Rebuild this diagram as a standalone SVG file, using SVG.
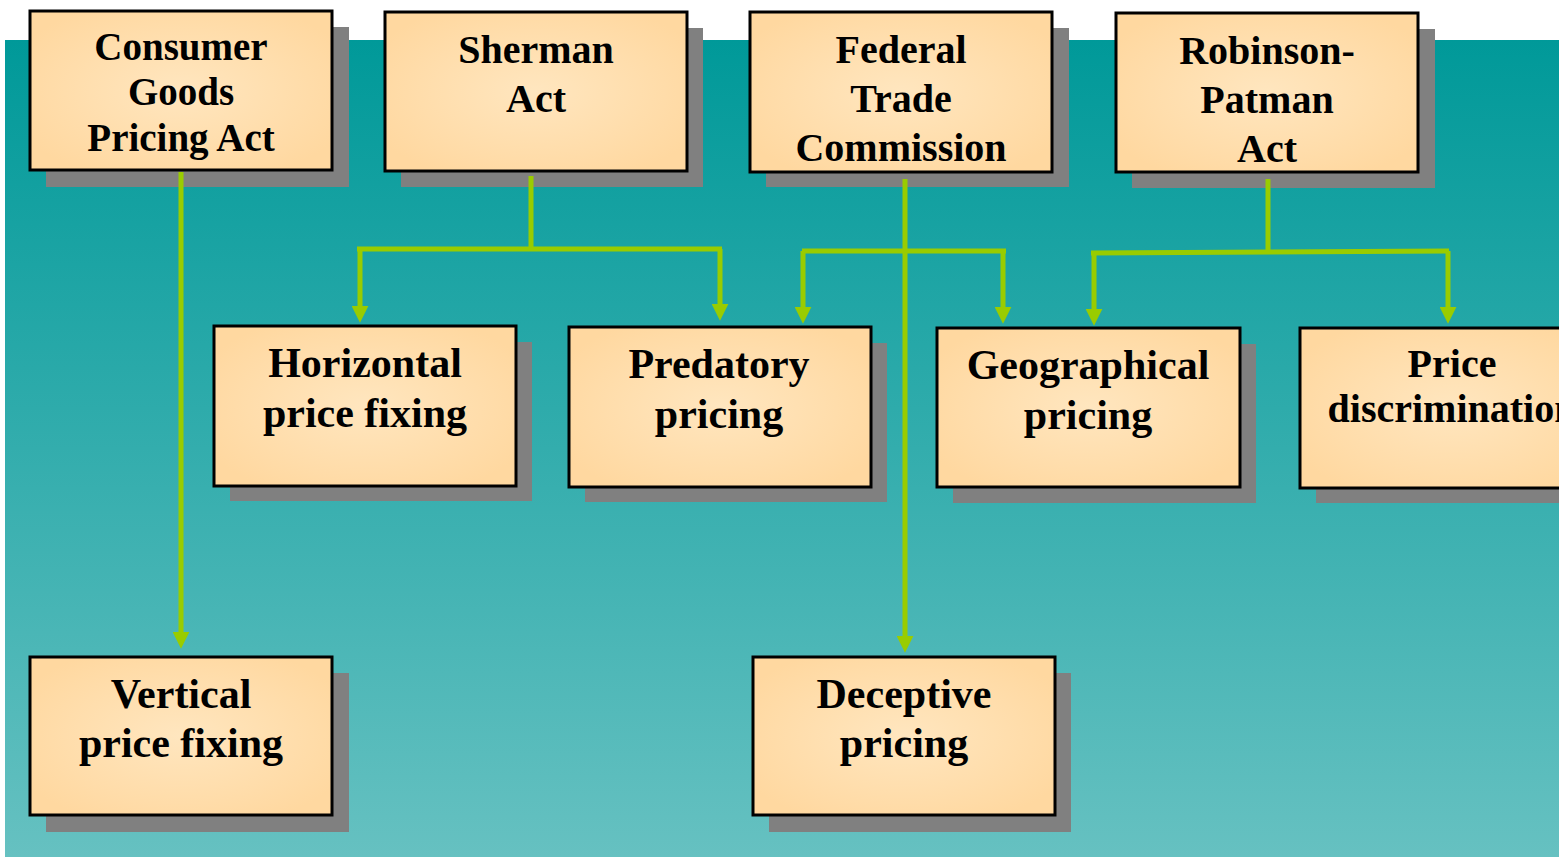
<svg xmlns="http://www.w3.org/2000/svg" width="1559" height="857" viewBox="0 0 1559 857">
<defs>
<linearGradient id="bg" x1="0" y1="0" x2="0" y2="1">
<stop offset="0" stop-color="#009999"/>
<stop offset="1" stop-color="#66C1C1"/>
</linearGradient>
<radialGradient id="box" cx="0.5" cy="0.5" r="0.6">
<stop offset="0" stop-color="#FFE6BF"/>
<stop offset="1" stop-color="#FFD8A0"/>
</radialGradient>
<marker id="arr" markerUnits="userSpaceOnUse" markerWidth="17" markerHeight="17" viewBox="0 0 16 16" refX="4" refY="8" orient="auto">
<path d="M0,0 L16,8 L0,16 z" fill="#99CC00"/>
</marker>
<style>
.sh{fill:#808080}
.bx{fill:url(#box);stroke:#000;stroke-width:3}
.t{font-family:"Liberation Serif","Times New Roman",serif;font-weight:bold;fill:#000;text-anchor:middle}
.c{fill:none;stroke:#99CC00;stroke-width:5}
</style>
</defs>
<rect x="5" y="40" width="1554" height="817" fill="url(#bg)"/>

<g id="consumer">
<rect class="sh" x="46" y="27" width="303" height="160"/>
<rect class="bx" x="30" y="11" width="302" height="159"/>
<text class="t" font-size="39"><tspan x="181" y="60">Consumer</tspan><tspan x="181" y="105">Goods</tspan><tspan x="181" y="151">Pricing Act</tspan></text>
</g>
<g id="sherman">
<rect class="sh" x="401" y="28" width="302" height="159"/>
<rect class="bx" x="385" y="12" width="302" height="159"/>
<text class="t" font-size="40"><tspan x="536" y="63">Sherman</tspan><tspan x="536" y="112">Act</tspan></text>
</g>
<g id="ftc">
<rect class="sh" x="766" y="28" width="303" height="159"/>
<rect class="bx" x="750" y="12" width="302" height="160"/>
<text class="t" font-size="40"><tspan x="901" y="63">Federal</tspan><tspan x="901" y="112">Trade</tspan><tspan x="901" y="161">Commission</tspan></text>
</g>
<g id="robinson">
<rect class="sh" x="1132" y="29" width="303" height="159"/>
<rect class="bx" x="1116" y="13" width="302" height="159"/>
<text class="t" font-size="40"><tspan x="1267" y="64">Robinson-</tspan><tspan x="1267" y="113">Patman</tspan><tspan x="1267" y="162">Act</tspan></text>
</g>
<g id="horizontal">
<rect class="sh" x="230" y="342" width="302" height="159"/>
<rect class="bx" x="214" y="326" width="302" height="160"/>
<text class="t" font-size="42"><tspan x="365" y="377">Horizontal</tspan><tspan x="365" y="427">price fixing</tspan></text>
</g>
<g id="predatory">
<rect class="sh" x="585" y="343" width="302" height="159"/>
<rect class="bx" x="569" y="327" width="302" height="160"/>
<text class="t" font-size="42"><tspan x="719" y="378">Predatory</tspan><tspan x="719" y="428">pricing</tspan></text>
</g>
<g id="geographical">
<rect class="sh" x="953" y="344" width="303" height="159"/>
<rect class="bx" x="937" y="328" width="303" height="159"/>
<text class="t" font-size="42"><tspan x="1088" y="379">Geographical</tspan><tspan x="1088" y="429">pricing</tspan></text>
</g>
<g id="pricediscrimination">
<rect class="sh" x="1316" y="344" width="303" height="159"/>
<rect class="bx" x="1300" y="328" width="303" height="160"/>
<text class="t" font-size="40"><tspan x="1452" y="377">Price</tspan><tspan x="1452" y="422">discrimination</tspan></text>
</g>
<g id="vertical">
<rect class="sh" x="46" y="673" width="303" height="159"/>
<rect class="bx" x="30" y="657" width="302" height="158"/>
<text class="t" font-size="42"><tspan x="181" y="708">Vertical</tspan><tspan x="181" y="757">price fixing</tspan></text>
</g>
<g id="deceptive">
<rect class="sh" x="769" y="673" width="302" height="159"/>
<rect class="bx" x="753" y="657" width="302" height="158"/>
<text class="t" font-size="42"><tspan x="904" y="708">Deceptive</tspan><tspan x="904" y="757">pricing</tspan></text>
</g>

<g id="connectors">
<path class="c" d="M181,172 V636" marker-end="url(#arr)"/>
<path class="c" d="M531,176 V249"/>
<path class="c" d="M357,249 H722"/>
<path class="c" d="M360,249 V310" marker-end="url(#arr)"/>
<path class="c" d="M720,249 V308" marker-end="url(#arr)"/>
<path class="c" d="M905,179 V640" marker-end="url(#arr)"/>
<path class="c" d="M802,251 H1006"/>
<path class="c" d="M803,251 V311" marker-end="url(#arr)"/>
<path class="c" d="M1003,251 V311" marker-end="url(#arr)"/>
<path class="c" d="M1268,179 V251"/>
<path class="c" d="M1091,253 L1449,251"/>
<path class="c" d="M1094,253 V313" marker-end="url(#arr)"/>
<path class="c" d="M1448,251 V311" marker-end="url(#arr)"/>
</g>
</svg>
